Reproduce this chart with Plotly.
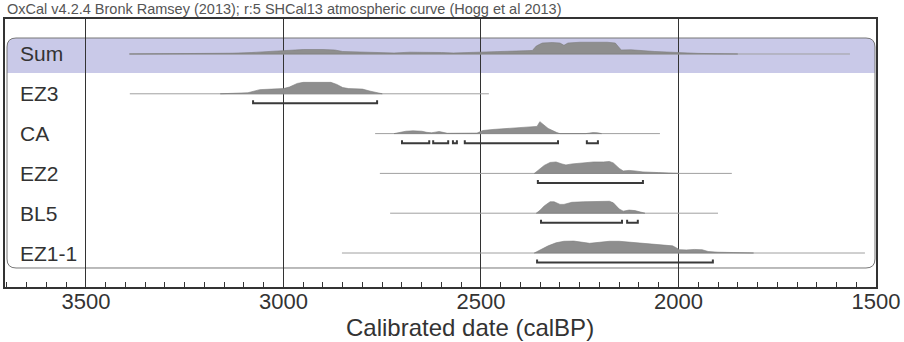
import plotly.graph_objects as go

# ---------------- data ----------------
row_labels = ["Sum", "EZ3", "CA", "EZ2", "BL5", "EZ1-1"]
tick_values = [3500, 3000, 2500, 2000, 1500]

# line spans (calBP) of each row
sum_span = [3390, 1566]
ez3_span = [3389, 2480]
ca_span = [2768, 2047]
ez2_span = [2756, 1865]
bl5_span = [2730, 1900]
ez11_span = [2852, 1528]

# probability distributions (calBP, relative probability)
sum_years = [3390, 3200, 3130, 3080, 3040, 3000, 2980, 2950, 2900, 2870, 2850, 2800, 2760, 2720,
             2680, 2640, 2600, 2570, 2530, 2500, 2450, 2400, 2370, 2360, 2345, 2320, 2300, 2290,
             2280, 2250, 2220, 2180, 2160, 2150, 2145, 2120, 2100, 2060, 2030, 2000, 1950, 1900, 1850]
sum_prob = [0, 0.2, 0.8, 1.5, 2.2, 3, 4, 4.5, 4.5, 4, 2.5, 1.8, 1.2, 1,
            1.8, 2, 1.5, 1, 1.5, 2, 2.5, 3, 3.5, 8, 11, 11.5, 11, 8.7,
            11, 11.8, 12, 11.8, 11, 6, 4, 4.2, 3.5, 2.5, 2, 1.2, 0.6, 0.2, 0]

ez3_years = [3160, 3120, 3090, 3075, 3060, 3030, 3000, 2985, 2965, 2950, 2900, 2880, 2865, 2850,
             2835, 2800, 2780, 2760, 2750]
ez3_prob = [0, 0.8, 1, 2.5, 4, 4.5, 5, 6.5, 10, 11, 11.5, 11, 9, 6,
            5, 4.5, 2.5, 0.5, 0]

ca_years = [2720, 2705, 2690, 2672, 2650, 2637, 2625, 2616, 2606, 2596, 2585, 2510, 2495, 2470,
            2427, 2376, 2358, 2351, 2343, 2330, 2308, 2300, 2235, 2225, 2216, 2205, 2195]
ca_prob = [0, 1.5, 2.3, 2.7, 2.3, 1.2, 0.8, 1.4, 2, 1.2, 0.3, 0.5, 3, 4,
           5, 6, 7, 11.6, 9, 5, 1, 0, 0, 0.8, 1, 0.8, 0]

ez2_years = [2365, 2355, 2340, 2325, 2310, 2295, 2285, 2270, 2240, 2215, 2190, 2175, 2165, 2150,
             2140, 2125, 2110, 2090, 2050, 2020, 2000]
ez2_prob = [0, 3, 8, 11, 11.5, 9.5, 8.5, 9.5, 10.5, 11.5, 11.5, 12, 10.5, 5,
            2.5, 3, 2.5, 1.5, 0.8, 0.4, 0]

bl5_years = [2360, 2350, 2340, 2325, 2315, 2300, 2290, 2270, 2240, 2200, 2175, 2165, 2150, 2140,
             2125, 2110, 2095, 2085]
bl5_prob = [0, 3, 7, 11, 11, 8.5, 8.5, 10.5, 11, 11.5, 11.5, 10, 4, 2,
            3, 2.5, 1, 0]

ez11_years = [2365, 2350, 2330, 2310, 2290, 2265, 2240, 2225, 2200, 2175, 2150, 2120, 2080, 2040,
              2015, 2005, 1998, 1980, 1960, 1940, 1925, 1900, 1860, 1810]
ez11_prob = [0, 3, 7, 10, 11.5, 11.7, 10.5, 9.5, 10.5, 11.5, 11.5, 10.5, 9.5, 8.3,
             7, 5, 3.3, 3, 3.5, 3.2, 1.5, 0.8, 0.4, 0]

# 95.4% ranges (calBP)
sum_ranges = []
ez3_ranges = [[3077, 2763]]
ca_ranges = [[2700, 2631], [2621, 2583], [2571, 2561], [2541, 2305], [2232, 2204]]
ez2_ranges = [[2356, 2090]]
bl5_ranges = [[2348, 2143], [2130, 2103]]
ez11_ranges = [[2358, 1913]]

title_text = "OxCal v4.2.4 Bronk Ramsey (2013); r:5 SHCal13 atmospheric curve (Hogg et al 2013)"
x_title = "Calibrated date (calBP)"

# ---------------- figure ----------------
rows = [
    (sum_span, sum_years, sum_prob, sum_ranges),
    (ez3_span, ez3_years, ez3_prob, ez3_ranges),
    (ca_span, ca_years, ca_prob, ca_ranges),
    (ez2_span, ez2_years, ez2_prob, ez2_ranges),
    (bl5_span, bl5_years, bl5_prob, bl5_ranges),
    (ez11_span, ez11_years, ez11_prob, ez11_ranges),
]

H = 0.30      # peak height in row units
BAR = 0.24    # range bar offset below baseline
CAP = 0.075   # bracket end height

fig = go.Figure()
for i, (span, yrs, prob, ranges) in enumerate(rows):
    pmax = max(prob)
    fig.add_trace(go.Scatter(x=span, y=[i, i], mode="lines",
                             line=dict(color="#a0a0a0", width=1), hoverinfo="skip"))
    px = list(yrs) + [yrs[-1], yrs[0]]
    py = [i - H * p / pmax for p in prob] + [i, i]
    fig.add_trace(go.Scatter(x=px, y=py, mode="lines", fill="toself",
                             fillcolor="#8e8e8e", line=dict(color="#7c7c7c", width=0.6),
                             hoverinfo="skip"))
    bx, by = [], []
    b = i + BAR
    for a, e in ranges:
        bx += [a, a, e, e, None]
        by += [b - CAP, b, b, b - CAP, None]
    if bx:
        fig.add_trace(go.Scatter(x=bx, y=by, mode="lines",
                                 line=dict(color="#3a3a3a", width=2), hoverinfo="skip"))

# rounded box and Sum highlight (paper coordinates)
W, Hpx = 871.0, 268.0
def px2paper(xp, yp):
    return (xp - 5) / W, 1 - (yp - 19) / Hpx

def rounded_path(x0, y0, x1, y1, r, bottom_round=True):
    def P(xp, yp):
        a, c = px2paper(xp, yp)
        return f"{a:.5f},{c:.5f}"
    s = f"M {P(x0, y0 + r)} Q {P(x0, y0)} {P(x0 + r, y0)} L {P(x1 - r, y0)} Q {P(x1, y0)} {P(x1, y0 + r)} "
    if bottom_round:
        s += f"L {P(x1, y1 - r)} Q {P(x1, y1)} {P(x1 - r, y1)} L {P(x0 + r, y1)} Q {P(x0, y1)} {P(x0, y1 - r)} Z"
    else:
        s += f"L {P(x1, y1)} L {P(x0, y1)} Z"
    return s

shapes = [
    dict(type="path", xref="paper", yref="paper", layer="below",
         path=rounded_path(7, 38, 875, 73, 9, bottom_round=False),
         fillcolor="#c9c9e8", line=dict(width=0)),
    dict(type="path", xref="paper", yref="paper", layer="below",
         path=rounded_path(7, 38, 875, 268, 9, bottom_round=True),
         fillcolor="rgba(0,0,0,0)", line=dict(color="#777777", width=1)),
]

annotations = [dict(text=lab, x=(18 - 5) / W, y=i, xref="paper", yref="y",
                    xanchor="left", yanchor="middle", showarrow=False,
                    font=dict(family="Liberation Sans", size=21, color="#333333"))
               for i, lab in enumerate(row_labels)]
annotations.append(dict(text=title_text, x=0, y=1 + 10 / Hpx, xref="paper", yref="paper",
                        xanchor="left", yanchor="middle", showarrow=False,
                        font=dict(family="Liberation Sans", size=14.5, color="#555555")))
# x-axis title
annotations.append(dict(text=x_title, x=px2paper(470, 0)[0], y=px2paper(0, 341.5)[1],
                        xref="paper", yref="paper", xanchor="center", yanchor="bottom",
                        showarrow=False, borderpad=0,
                        font=dict(family="Liberation Sans", size=24, color="#333333")))

fig.update_layout(
    width=904, height=342,
    margin=dict(l=5, r=28, t=19, b=55, autoexpand=False),
    paper_bgcolor="white", plot_bgcolor="white",
    showlegend=False,
    shapes=shapes, annotations=annotations,
    font=dict(family="Liberation Sans", color="#333333"),
)
fig.update_xaxes(
    range=[3705, 1500], tickvals=tick_values, ticktext=[str(v) for v in tick_values],
    ticks="inside", ticklen=12, tickwidth=1, tickcolor="#333333",
    minor=dict(dtick=50, tick0=1500, ticks="inside", ticklen=5, tickcolor="#333333", showgrid=False),
    showgrid=True, gridcolor="#333333", gridwidth=1,
    showline=True, linecolor="#333333", linewidth=1.5, mirror=True, zeroline=False,
    automargin=False, ticklabelstandoff=-6,
    tickfont=dict(family="Liberation Sans", size=22, color="#333333"),
)
fig.update_yaxes(
    range=[5.854, -0.879], showticklabels=False, showgrid=False, zeroline=False,
    showline=True, linecolor="#333333", linewidth=1.5, mirror=True, ticks="",
    automargin=False,
)

fig.write_html("out.html", config={"displayModeBar": False},
               post_script="document.body.style.margin='0';document.body.style.overflow='hidden';")
